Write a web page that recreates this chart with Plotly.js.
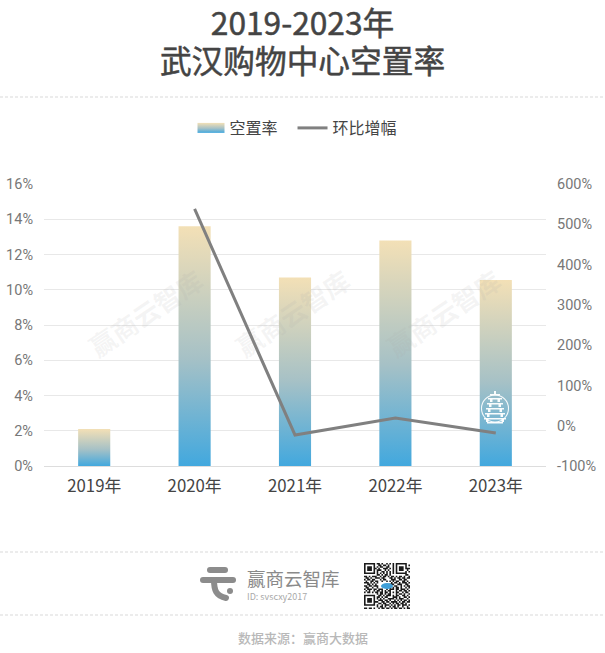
<!DOCTYPE html>
<html><head><meta charset="utf-8">
<script src="https://cdn.plot.ly/plotly-3.0.1.min.js"></script>
<style>html,body{margin:0;padding:0;background:#fff}#c{width:605px;height:653px}</style>
</head><body><div id="c"></div>
<script>
const years = ['2019年','2020年','2021年','2022年','2023年'];
const vacancy = [2.1,13.6,10.7,12.8,10.55];
const change = [null,538,-23,19,-18];
const leftTicks = [0,2,4,6,8,10,12,14,16];
const leftLabels = ['0%','2%','4%','6%','8%','10%','12%','14%','16%'];
const rightTicks = [-100,0,100,200,300,400,500,600];
const rightLabels = ['-100%','0%','100%','200%','300%','400%','500%','600%'];
const qrRows = [
'11111110110100101010111111100',
'10000010011011010010100000101',
'10111010101100110010101110100',
'10111011010011101010101110111',
'10111010111001010010101110010',
'10000010100110101010100000101',
'11111110101010101010111111100',
'00000000110101101000000000110',
'11010111001011010110101101001',
'01101001110110001101011011011',
'10110110001011000111001101100',
'01001101100100101010110011010',
'11101010100000000101101011101',
'00110101000000001110011100110',
'11011011100000001001100101011',
'01100100100000001010110100101',
'10111011011100101110110111010',
'01010010110101011000101101101',
'10110101101101101010110010110',
'00000000101101011000101101001',
'11111110011010111010110011010',
'10000010110101100011101001101',
'10111010101010011110101110010',
'10111010011101101001010101101',
'10111011100110110111101011011',
'10000010011011001010110110100',
'11111110100101110101011011101',
'00000000101101001011010010010',
'11011010010110110101101101011'];

const W=605,H=653,L=44,R=546,T=184,B=466;
const px=x=>(x-L)/(R-L), py=y=>(B-y)/(B-T);
const FONT='"Noto Sans CJK SC","Noto Sans",sans-serif';
const NUM='Roboto,"Noto Sans",sans-serif';
const shapes=[];
[97,552,615].forEach(y=>shapes.push({type:'line',xref:'paper',yref:'paper',x0:px(0),x1:px(605),y0:py(y),y1:py(y),line:{color:'#d9d9d9',width:1,dash:'3px,2px'}}));
function rp(d,color){shapes.push({type:'path',xref:'paper',yref:'paper',path:d,fillcolor:color,line:{width:0},layer:'above'});}
function box(x0,y0,x1,y1){return `M${px(x0)},${py(y0)}L${px(x1)},${py(y0)}L${px(x1)},${py(y1)}L${px(x0)},${py(y1)}Z`;}
function strokePath(pts,w){shapes.push({type:'path',xref:'paper',yref:'paper',layer:'above',line:{color:'#8c8c8c',width:w},path:pts});}
strokePath(`M${px(210)},${py(570)}L${px(225)},${py(570)}`,6);
strokePath(`M${px(203)},${py(580)}L${px(233)},${py(580)}`,6);
strokePath(`M${px(214)},${py(580)}C${px(214)},${py(590)} ${px(216)},${py(596)} ${px(226)},${py(598)}`,6);
shapes.push({type:'circle',xref:'paper',yref:'paper',layer:'above',x0:px(227),x1:px(233),y0:py(594),y1:py(588),fillcolor:'#8c8c8c',line:{width:0}});
const q0x=364,q0y=563,qs=46/qrRows.length;
let qd='';
qrRows.forEach((r,j)=>[...r].forEach((c,i)=>{if(c==='1')qd+=box(q0x+i*qs,q0y+j*qs,q0x+(i+1)*qs,q0y+(j+1)*qs);}));
rp(qd,'#1a1a1a');
shapes.push({type:'circle',xref:'paper',yref:'paper',layer:'above',x0:px(381),x1:px(393),y0:py(589),y1:py(583),fillcolor:'#3f9fd8',line:{width:0}});
shapes.push({type:'circle',xref:'paper',yref:'paper',layer:'above',x0:px(481.5),x1:px(508.5),y0:py(422),y1:py(395),line:{color:'rgba(255,255,255,0.9)',width:1.1}});
let td=box(494,391,496,394)+box(490,394,500,395.5);
[[398,7],[403,8],[408,9],[413,10],[418,11]].forEach(a=>{const y=a[0],h=a[1];td+=box(495-h,y,495+h,y+1.4);td+=box(495-h+2,y+1.4,495-h+4.5,y+4);td+=box(495+h-4.5,y+1.4,495+h-2,y+4);});
td+=box(487,422,503,423.5);
rp(td,'rgba(255,255,255,0.95)');

const wm=[[145,312],[292,312],[443,312]].map(p=>({xref:'paper',yref:'paper',x:px(p[0]),y:py(p[1]),xanchor:'center',yanchor:'middle',text:'赢商云智库',showarrow:false,textangle:-34,
  font:{family:FONT,size:26,color:'rgba(170,170,170,0.13)',weight:700}}));
const note=(x,y,text,size,color,anchor,weight)=>({xref:'paper',yref:'paper',x:px(x),y:py(y),text,showarrow:false,xanchor:anchor||'left',yanchor:'middle',font:{family:FONT,size,color,weight:weight||400}});

const data=[
 {type:'bar',name:'空置率',x:years,y:vacancy,marker:{color:'#9ac4ca',line:{width:0}},hoverinfo:'skip'},
 {type:'scatter',mode:'lines',name:'环比增幅',x:years,y:change,yaxis:'y2',line:{color:'#808080',width:3},connectgaps:false,hoverinfo:'skip'}
];
const layout={
 width:W,height:H,margin:{l:L,r:W-R,t:T,b:H-B,pad:0},paper_bgcolor:'#fff',plot_bgcolor:'#fff',showlegend:true,bargap:0.68,
 title:{text:'2019-2023年<br>武汉购物中心空置率',x:px(302.5),xanchor:'center',xref:'paper',y:1-14/H,yanchor:'top',pad:{t:0},font:{family:FONT,size:31.7,color:'#444',weight:400}},
 legend:{orientation:'h',x:px(301),xanchor:'center',y:py(128),yanchor:'middle',font:{family:FONT,size:16,color:'#444'},itemclick:false,itemdoubleclick:false,bgcolor:'rgba(0,0,0,0)',itemwidth:30},
 xaxis:{type:'category',range:[-0.5,4.5],showgrid:false,zeroline:false,showline:true,linecolor:'#dddddd',linewidth:1,ticks:'',tickfont:{family:FONT,size:16.8,color:'#444'},ticklabelstandoff:5},
 yaxis:{range:[0,16],tickvals:leftTicks,ticktext:leftLabels,showgrid:true,gridcolor:'#e8e8e8',gridwidth:1,zeroline:false,showline:false,ticks:'',ticklabelstandoff:10,tickfont:{family:NUM,size:14.5,color:'#777'}},
 yaxis2:{overlaying:'y',side:'right',range:[-100,600],tickvals:rightTicks,ticktext:rightLabels,showgrid:false,zeroline:false,showline:false,ticks:'',ticklabelstandoff:10,tickfont:{family:NUM,size:14.5,color:'#777'}},
 shapes,
 annotations:[...wm,
  note(245,578,'赢商云智库',18.5,'#8a8a8a'),
  note(245,596,'ID: svscxy2017',9,'#aaaaaa'),
  note(303,637,'数据来源：赢商大数据',13,'#b8b8b8','center',500)]
};
Plotly.newPlot('c',data,layout,{displayModeBar:false}).then(gd=>{
 const svg=gd.querySelector('svg.main-svg');
 const NS='http://www.w3.org/2000/svg';
 const defs=svg.querySelector('defs')||svg.insertBefore(document.createElementNS(NS,'defs'),svg.firstChild);
 const g=document.createElementNS(NS,'linearGradient');
 g.setAttribute('id','barGrad');g.setAttribute('x1','0');g.setAttribute('y1','0');g.setAttribute('x2','0');g.setAttribute('y2','1');
 [['0','#F3E0B6'],['0.55','#A6C1C6'],['1','#42A8DE']].forEach(s=>{const st=document.createElementNS(NS,'stop');st.setAttribute('offset',s[0]);st.setAttribute('stop-color',s[1]);g.appendChild(st);});
 defs.appendChild(g);
 gd.querySelectorAll('.bars .point path').forEach(p=>{p.style.fill='url(#barGrad)';});
 const lgr=gd.querySelector('.legend');
 if(lgr)lgr.querySelectorAll('[clip-path]').forEach(e=>e.removeAttribute('clip-path'));
 const tr=gd.querySelectorAll('.legend .traces');
 if(tr[0]){
  const m=/translate\(([-\d.]+)[ ,]*([-\d.]*)/.exec(tr[0].getAttribute('transform'));
  if(m)tr[0].setAttribute('transform',`translate(${parseFloat(m[1])-10},${parseFloat(m[2])||0})`);
  const lg=tr[0].querySelector('.legendpoints path');
  if(lg){lg.setAttribute('d','M13.5,5H-13.5V-5H13.5Z');lg.style.fill='url(#barGrad)';lg.setAttribute('transform','translate(21.5,0)');}
 }
 gd.querySelectorAll('.shapelayer path').forEach(p=>{if(parseFloat(p.style.strokeWidth)===6)p.style.strokeLinecap='round';});
 const t=gd.querySelector('.gtitle');
 const tsp=t?t.querySelectorAll('.line'):[];
 if(tsp.length===2){tsp[0].setAttribute('y',35);tsp[0].setAttribute('dy','0');tsp[1].setAttribute('y',73);tsp[1].setAttribute('dy','0');t.removeAttribute('transform');t.style.stroke='#444';t.style.strokeWidth='0.5px';}
});
</script></body></html>
